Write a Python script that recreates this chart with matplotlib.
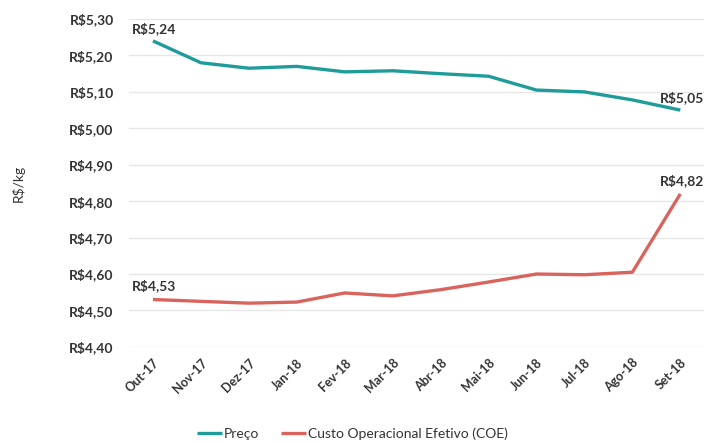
import matplotlib
matplotlib.use("Agg")
from matplotlib import pyplot as plt

# Monthly series, R$/kg
meses = ["Out-17", "Nov-17", "Dez-17", "Jan-18", "Fev-18", "Mar-18",
         "Abr-18", "Mai-18", "Jun-18", "Jul-18", "Ago-18", "Set-18"]
preco = [5.24, 5.18, 5.165, 5.17, 5.155, 5.158, 5.15, 5.143, 5.105, 5.10, 5.078, 5.05]
coe = [4.53, 4.525, 4.52, 4.523, 4.548, 4.54, 4.557, 4.578, 4.60, 4.598, 4.605, 4.82]
y_ticks = [4.40, 4.50, 4.60, 4.70, 4.80, 4.90, 5.00, 5.10, 5.20, 5.30]

plt.rcParams['font.family'] = ['Lato', 'DejaVu Sans']

teal = "#1f9c9a"
red = "#d9645e"
text_col = "#333333"


def brl(v):
    return "R$" + f"{v:.2f}".replace(".", ",")


fig = plt.figure(figsize=(7.05, 4.43), dpi=100)
ax = fig.add_axes([0.183, 0.217, 0.816, 0.740])

x = list(range(len(meses)))
ax.plot(x, preco, color=teal, lw=2.4, label="Preço", solid_capstyle="butt")
ax.plot(x, coe, color=red, lw=2.4, label="Custo Operacional Efetivo (COE)", solid_capstyle="butt")

ax.set_xlim(-0.5, len(meses) - 0.5)
ax.set_ylim(y_ticks[0], y_ticks[-1])
ax.set_yticks(y_ticks)
ax.set_yticklabels([brl(v) for v in y_ticks], fontsize=10, fontweight="bold", color=text_col)
ax.set_xticks(x)
ax.set_xticklabels(meses, rotation=45, ha="right", rotation_mode="anchor",
                   fontsize=9, fontweight="bold", color=text_col)
ax.tick_params(length=0, pad=7)
ax.tick_params(axis="y", pad=11)
ax.grid(axis="y", color="#e6e6e6", lw=1)
ax.set_axisbelow(True)
for s in ax.spines.values():
    s.set_visible(False)

ax.set_ylabel("R$/kg", fontsize=10, color=text_col, labelpad=32)

# value labels on the first and last points
lbl = dict(fontsize=10, fontweight="bold", color=text_col)
ax.annotate(brl(preco[0]), (x[0], preco[0]), xytext=(-15, 4), textcoords="offset points", ha="left", va="bottom", **lbl)
ax.annotate(brl(preco[-1]), (x[-1], preco[-1]), xytext=(-15, 4), textcoords="offset points", ha="left", va="bottom", **lbl)
ax.annotate(brl(coe[0]), (x[0], coe[0]), xytext=(-15, 5), textcoords="offset points", ha="left", va="bottom", **lbl)
ax.annotate(brl(coe[-1]), (x[-1], coe[-1]), xytext=(-15, 5), textcoords="offset points", ha="left", va="bottom", **lbl)

fig.legend(loc="lower center", bbox_to_anchor=(0.5, -0.022), ncol=2, frameon=False,
           fontsize=10, handlelength=1.8, handletextpad=0.1, columnspacing=1.6,
           labelcolor=text_col)

fig.savefig("out.png", dpi=100, facecolor="white")
